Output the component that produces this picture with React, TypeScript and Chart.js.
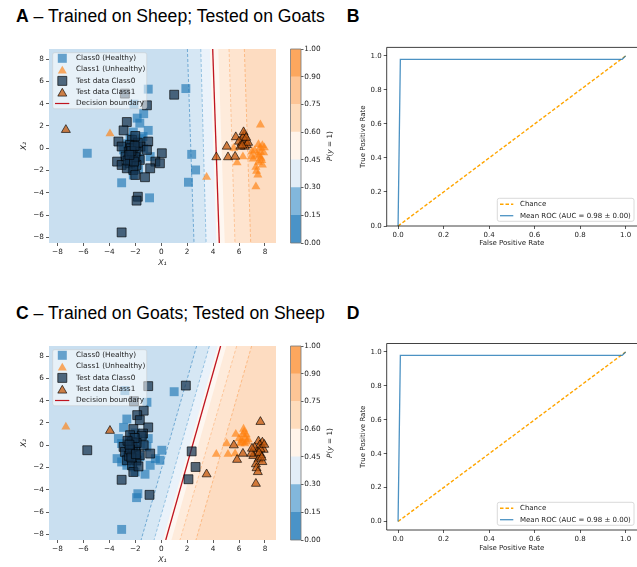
import React, { useEffect, useRef } from 'react';
import { Chart, registerables } from 'chart.js';

Chart.register(...registerables);

const FONT = "'DejaVu Sans', sans-serif";
const TITLE_FONT = "'Liberation Sans', Arial, sans-serif";
const TEXT = '#222';

// ---------------- scatter panels (A, C) ----------------
const SCATTER_X_TICKS = [-8, -6, -4, -2, 0, 2, 4, 6, 8];
const SCATTER_Y_TICKS = [-8, -6, -4, -2, 0, 2, 4, 6, 8];
const SCATTER_X_LIMITS = [-8.65, 8.85];
const SCATTER_Y_LIMITS = [-8.5, 8.9];

type Pt = [number, number];

const SHEEP_CLASS0: Pt[] = [
  [-5.7, -0.45], [-1.0, 5.3], [1.9, 5.35], [2.35, -0.55], [2.65, -1.95], [2.1, -3.05],
  [-3.05, -3.1], [-0.9, -4.45], [-2.1, 3.95], [-1.35, 3.1], [-1.85, 2.7], [-1.65, 2.25],
  [-1.0, 1.6], [-2.15, 1.45], [-1.4, 1.05], [-2.4, 0.9], [-1.5, 0.85], [-2.9, -0.15],
  [-2.25, 0.3], [-1.35, 0.0], [-2.8, -0.6], [-2.0, -0.45], [-2.65, -1.35], [-1.9, -1.35],
  [-2.25, -1.8], [-1.65, -0.9], [-2.15, -2.4], [-0.85, -0.75], [-2.2, -0.15], [-2.5, -0.95],
  [-1.9, 0.2], [-2.4, -0.4], [-1.75, -1.9], [-2.05, 0.65], [-2.6, 0.4], [-2.3, -1.1],
  [-1.95, -0.8], [-2.45, 0.05],
];
const GOATS_CLASS0: Pt[] = [
  [1.0, 4.8], [-2.8, 4.9], [-1.1, 3.85], [-2.65, 2.35], [-2.9, 1.6], [-2.25, 0.75],
  [-3.3, 0.6], [-3.05, 0.15], [-2.4, 0.3], [-1.0, 0.6], [-1.6, 0.15], [-2.5, -0.3],
  [-1.9, -0.3], [-1.1, -0.15], [-2.75, -0.75], [-2.25, -0.9], [-1.65, -1.05], [-3.4, -1.2],
  [-3.05, -1.5], [-2.4, -1.35], [-1.9, -1.5], [-2.65, -1.8], [-2.15, -1.95], [0.05, -0.45],
  [-0.45, -1.2], [-0.1, -1.35], [-0.85, -1.8], [-2.0, -2.4], [-1.25, -2.6], [-1.8, -4.35],
  [-1.9, -4.7], [-3.05, -7.55], [-2.2, -0.5], [-2.35, 0.0], [-2.0, -0.8], [-2.6, -1.1],
  [-1.8, 0.5], [-2.1, -1.2], [-2.0, 1.1], [-2.3, -0.25], [-2.05, 0.2], [-2.45, -0.6],
];
const SHEEP_CLASS1: Pt[] = [
  [-3.95, 1.3], [3.5, -2.6], [7.65, 2.1], [7.3, -3.45], [5.85, -1.3], [6.3, -0.75],
  [5.6, 0.0], [7.5, 0.35], [7.8, 0.25], [7.6, 0.0], [7.2, -0.2], [7.9, -0.4],
  [7.4, -0.6], [7.7, -0.9], [7.1, -0.95], [7.5, -1.25], [7.8, -1.5], [7.3, -1.7],
  [7.35, -2.05], [7.45, -2.4], [6.95, -0.75], [7.0, -0.3], [7.65, -0.35], [7.95, 0.05],
  [7.55, -0.7], [7.75, -1.1],
];
const GOATS_CLASS1: Pt[] = [
  [-7.35, 1.65], [4.25, -0.8], [5.05, 0.15], [5.15, -0.8], [5.75, 1.0], [6.4, 1.2],
  [6.2, 0.45], [6.5, 0.65], [6.3, 0.95], [6.6, 0.3], [6.0, 0.6], [6.45, 0.15],
  [6.7, 0.5], [6.1, 0.15], [6.35, 1.45], [6.55, 0.95], [6.25, 0.25], [5.7, -0.75],
];

// probability levels of the filled contours and colour bar
const COLORBAR_LABELS = ['0.00', '0.15', '0.30', '0.45', '0.60', '0.75', '0.90', '1.00'];
const COLORBAR_COLORS = ['#4a93c7', '#82b7dc', '#e2edf7', '#fff4ea', '#fedcbc', '#fdc596', '#fca75e'];
const REGION_COLORS = ['#c9dff0', '#d6e7f4', '#eaf2fa', '#fef7f1', '#feebdb', '#fee4cf', '#fddcc1'];
const CONTOUR_LINE_COLORS = ['rgba(74,147,199,0.8)', 'rgba(130,183,220,0.9)', '', '', 'rgba(252,190,140,0.9)', 'rgba(251,170,105,0.8)'];

// x position of each contour line (levels 0.15 .. 0.90) at the top and bottom edge of the plot
const A_LEVEL_TOP = [2.02, 3.05, 3.75, 4.4, 5.23, 6.41];
const A_LEVEL_BOTTOM = [2.53, 3.46, 4.26, 4.9, 5.69, 6.9];
const A_BOUNDARY = [3.97, 4.48];
const C_LEVEL_TOP = [2.73, 3.71, 4.36, 5.02, 5.82, 6.97];
const C_LEVEL_BOTTOM = [-1.55, -0.55, 0.13, 0.79, 1.45, 2.68];
const C_BOUNDARY = [4.58, 0.35];

const SCATTER_LEGEND = ['Class0 (Healthy)', 'Class1 (Unhealthy)', 'Test data Class0', 'Test data Class1', 'Decision boundary'];

// ---------------- ROC panels (B, D) ----------------
const ROC_FPR = [0, 0.01, 0.985, 1.0];
const ROC_TPR = [0, 0.98, 0.98, 1.0];
const CHANCE_X = [0, 1];
const CHANCE_Y = [0, 1];
const ROC_TICKS = [0, 0.2, 0.4, 0.6, 0.8, 1.0];
const ROC_X_LIMITS = [-0.05, 1.05];
const ROC_B_Y_LIMITS = [0.0, 1.05];
const ROC_D_Y_LIMITS = [-0.05, 1.05];
const ROC_LEGEND = ['Chance', 'Mean ROC (AUC = 0.98 \u00b1 0.00)'];

// styles
const TRAIN0 = 'rgba(31,119,180,0.65)';
const TRAIN1 = 'rgba(255,127,14,0.65)';
const TEST0 = 'rgba(20,50,78,0.72)';
const TEST1 = 'rgba(195,88,12,0.75)';
const EDGE = 'rgba(0,0,0,0.8)';
const RED = '#c0141f';
const ROC_BLUE = 'rgba(31,119,180,0.8)';
const CHANCE_ORANGE = '#ffa500';

const fmtInt = (v: number) => (v < 0 ? '\u2212' + Math.abs(v) : String(v));

function roundRect(ctx: CanvasRenderingContext2D, x: number, y: number, w: number, h: number, r: number) {
  ctx.beginPath();
  ctx.moveTo(x + r, y);
  ctx.lineTo(x + w - r, y);
  ctx.arcTo(x + w, y, x + w, y + r, r);
  ctx.lineTo(x + w, y + h - r);
  ctx.arcTo(x + w, y + h, x + w - r, y + h, r);
  ctx.lineTo(x + r, y + h);
  ctx.arcTo(x, y + h, x, y + h - r, r);
  ctx.lineTo(x, y + r);
  ctx.arcTo(x, y, x + r, y, r);
  ctx.closePath();
}

function triangle(ctx: CanvasRenderingContext2D, cx: number, cy: number, w: number, h: number) {
  ctx.beginPath();
  ctx.moveTo(cx, cy - h / 2);
  ctx.lineTo(cx + w / 2, cy + h / 2);
  ctx.lineTo(cx - w / 2, cy + h / 2);
  ctx.closePath();
}

const scatterLegendPlugin = {
  id: 'scatterLegend',
  afterDatasetsDraw(chart: any) {
    const { ctx, chartArea: ca } = chart;
    const x0 = ca.left + 3.7;
    const y0 = ca.top + 3.7;
    ctx.save();
    roundRect(ctx, x0, y0, 94, 56, 2);
    ctx.fillStyle = 'rgba(255,255,255,0.55)';
    ctx.fill();
    ctx.strokeStyle = 'rgba(200,200,200,0.6)';
    ctx.lineWidth = 0.8;
    ctx.stroke();
    const mx = x0 + 9.6;
    SCATTER_LEGEND.forEach((label, i) => {
      const cy = y0 + 5.6 + i * 11.3;
      if (i === 0 || i === 2) {
        ctx.beginPath();
        ctx.rect(mx - 4.5, cy - 4.5, 9, 9);
        ctx.fillStyle = i === 0 ? TRAIN0 : TEST0;
        ctx.fill();
        if (i === 2) { ctx.strokeStyle = EDGE; ctx.lineWidth = 0.8; ctx.stroke(); }
      } else if (i === 1 || i === 3) {
        triangle(ctx, mx, cy, 9, 7.8);
        ctx.fillStyle = i === 1 ? TRAIN1 : TEST1;
        ctx.fill();
        if (i === 3) { ctx.strokeStyle = EDGE; ctx.lineWidth = 0.8; ctx.stroke(); }
      } else {
        ctx.beginPath();
        ctx.moveTo(x0 + 2.3, cy);
        ctx.lineTo(x0 + 16.6, cy);
        ctx.strokeStyle = RED;
        ctx.lineWidth = 1.2;
        ctx.stroke();
      }
      ctx.fillStyle = TEXT;
      ctx.font = `7.3px ${FONT}`;
      ctx.textBaseline = 'middle';
      ctx.textAlign = 'left';
      ctx.fillText(label, x0 + 23.3, cy);
    });
    ctx.restore();
  },
};

const rocLegendPlugin = {
  id: 'rocLegend',
  afterDatasetsDraw(chart: any) {
    const { ctx, chartArea: ca } = chart;
    const w = 136.7;
    const h = 23;
    const x0 = ca.right - 3 - w;
    const y0 = ca.bottom - 4.7 - h;
    ctx.save();
    roundRect(ctx, x0, y0, w, h, 2);
    ctx.fillStyle = 'rgba(255,255,255,0.8)';
    ctx.fill();
    ctx.strokeStyle = '#d0d0d0';
    ctx.lineWidth = 0.8;
    ctx.stroke();
    ROC_LEGEND.forEach((label, i) => {
      const cy = y0 + 6 + i * 11.4;
      ctx.beginPath();
      ctx.moveTo(x0 + 2.7, cy);
      ctx.lineTo(x0 + 16, cy);
      if (i === 0) {
        ctx.setLineDash([3.5, 2]);
        ctx.strokeStyle = CHANCE_ORANGE;
        ctx.lineWidth = 1.4;
      } else {
        ctx.setLineDash([]);
        ctx.strokeStyle = ROC_BLUE;
        ctx.lineWidth = 1.3;
      }
      ctx.stroke();
      ctx.setLineDash([]);
      ctx.fillStyle = TEXT;
      ctx.font = `7px ${FONT}`;
      ctx.textBaseline = 'middle';
      ctx.textAlign = 'left';
      ctx.fillText(label, x0 + 22.7, cy);
    });
    ctx.restore();
  },
};

const framePlugin = {
  id: 'frame',
  afterDatasetsDraw(chart: any, _args: any, opts: any) {
    const sides: string[] = opts.sides || [];
    if (!sides.length) return;
    const { ctx, chartArea: ca } = chart;
    ctx.save();
    ctx.strokeStyle = opts.color || '#000';
    ctx.lineWidth = opts.width || 0.8;
    ctx.beginPath();
    if (sides.includes('left')) { ctx.moveTo(ca.left, ca.top); ctx.lineTo(ca.left, ca.bottom); }
    if (sides.includes('right')) { ctx.moveTo(ca.right, ca.top); ctx.lineTo(ca.right, ca.bottom); }
    if (sides.includes('top')) { ctx.moveTo(ca.left, ca.top); ctx.lineTo(ca.right, ca.top); }
    if (sides.includes('bottom')) { ctx.moveTo(ca.left, ca.bottom); ctx.lineTo(ca.right, ca.bottom); }
    ctx.stroke();
    ctx.restore();
  },
};

const tickFont = { family: FONT, size: 7.3 };
const tickGrid = { display: true, drawOnChartArea: false, drawTicks: true, tickLength: 3, color: '#333', lineWidth: 0.8 };

function scatterConfig(train: [Pt[], Pt[]], test: [Pt[], Pt[]], levelTop: number[], levelBottom: number[], boundary: number[]) {
  const [xmin, xmax] = SCATTER_X_LIMITS;
  const [ymin, ymax] = SCATTER_Y_LIMITS;
  const datasets: any[] = [];
  REGION_COLORS.forEach((color, i) => {
    const lt = i === 0 ? xmin : levelTop[i - 1];
    const lb = i === 0 ? xmin : levelBottom[i - 1];
    datasets.push({
      data: [{ x: lt, y: ymax }, { x: xmax, y: ymax }, { x: xmax, y: ymin }, { x: lb, y: ymin }],
      showLine: true, fill: 'shape', backgroundColor: color, borderColor: 'rgba(0,0,0,0)', borderWidth: 0,
      pointRadius: 0, order: 100 - i,
    });
  });
  CONTOUR_LINE_COLORS.forEach((color, i) => {
    if (!color) return;
    datasets.push({
      data: [{ x: levelTop[i], y: ymax }, { x: levelBottom[i], y: ymin }],
      showLine: true, fill: false, borderColor: color, borderWidth: 0.9, borderDash: [3, 2],
      pointRadius: 0, order: 60,
    });
  });
  datasets.push({
    data: [{ x: boundary[0], y: ymax }, { x: boundary[1], y: ymin }],
    showLine: true, fill: false, borderColor: RED, borderWidth: 1.3, pointRadius: 0, order: 50,
  });
  const pts = (arr: Pt[]) => arr.map(([x, y]) => ({ x, y }));
  datasets.push({ data: pts(train[0]), pointStyle: 'rect', pointRadius: 6.3, backgroundColor: TRAIN0, borderWidth: 0, borderColor: 'rgba(0,0,0,0)', order: 30 });
  datasets.push({ data: pts(train[1]), pointStyle: 'triangle', pointRadius: 5.2, backgroundColor: TRAIN1, borderWidth: 0, borderColor: 'rgba(0,0,0,0)', order: 29 });
  datasets.push({ data: pts(test[0]), pointStyle: 'rect', pointRadius: 6.3, backgroundColor: TEST0, borderWidth: 0.8, borderColor: EDGE, order: 20 });
  datasets.push({ data: pts(test[1]), pointStyle: 'triangle', pointRadius: 5.2, backgroundColor: TEST1, borderWidth: 0.8, borderColor: EDGE, order: 19 });

  return {
    type: 'scatter',
    data: { datasets },
    options: {
      responsive: false, animation: false, events: [],
      layout: { padding: { left: 0, top: 19, right: 10, bottom: 0 }, autoPadding: false },
      plugins: { legend: { display: false }, tooltip: { enabled: false } },
      elements: { point: { hoverRadius: 0 } },
      scales: {
        x: {
          type: 'linear', min: xmin, max: xmax,
          afterBuildTicks: (s: any) => { s.ticks = SCATTER_X_TICKS.map((v) => ({ value: v })); },
          afterFit: (s: any) => { s.height = 32; },
          ticks: { font: tickFont, color: TEXT, padding: 2, maxRotation: 0, autoSkip: false, callback: (v: any) => fmtInt(v) },
          grid: tickGrid, border: { display: false },
          title: { display: true, text: 'X\u2081', color: TEXT, font: { family: FONT, size: 7.8, style: 'italic' }, padding: { top: 0, bottom: 7.2 } },
        },
        y: {
          type: 'linear', min: ymin, max: ymax,
          afterBuildTicks: (s: any) => { s.ticks = SCATTER_Y_TICKS.map((v) => ({ value: v })); },
          afterFit: (s: any) => { s.width = 49; },
          ticks: { font: tickFont, color: TEXT, padding: 2, autoSkip: false, callback: (v: any) => fmtInt(v) },
          grid: tickGrid, border: { display: false },
          title: { display: true, text: 'X\u2082', color: TEXT, font: { family: FONT, size: 7.8, style: 'italic' }, padding: { top: 19.3, bottom: 0 } },
        },
      },
    },
    plugins: [scatterLegendPlugin],
  };
}

function colorbarConfig() {
  return {
    type: 'bar',
    data: {
      labels: [''],
      datasets: COLORBAR_COLORS.map((c) => ({ data: [1], backgroundColor: c, borderWidth: 0, barPercentage: 1, categoryPercentage: 1 })),
    },
    options: {
      responsive: false, animation: false, events: [],
      layout: { padding: { left: 4.5, top: 19, right: 0, bottom: 32 }, autoPadding: false },
      plugins: { legend: { display: false }, tooltip: { enabled: false }, frame: { sides: ['left', 'right', 'top', 'bottom'], color: '#777', width: 0.8 } },
      scales: {
        x: { display: false, stacked: true },
        y: {
          position: 'right', stacked: true, min: 0, max: COLORBAR_COLORS.length,
          afterBuildTicks: (s: any) => { s.ticks = COLORBAR_LABELS.map((_, i) => ({ value: i })); },
          afterFit: (s: any) => { s.width = 29; },
          ticks: { font: tickFont, color: TEXT, padding: 0.8, autoSkip: false, callback: (v: any) => COLORBAR_LABELS[Math.round(v)] },
          grid: { display: true, drawOnChartArea: false, drawTicks: true, tickLength: 2.5, color: '#333', lineWidth: 0.8 },
          border: { display: false },
        },
      },
    },
    plugins: [framePlugin],
  };
}

function rocConfig(yLimits: number[], padTop: number, xAxisHeight: number, titleBottom: number) {
  return {
    type: 'scatter',
    data: {
      datasets: [
        {
          data: ROC_FPR.map((x, i) => ({ x, y: ROC_TPR[i] })),
          showLine: true, fill: false, borderColor: ROC_BLUE, borderWidth: 1.3, pointRadius: 0, order: 1,
        },
        {
          data: CHANCE_X.map((x, i) => ({ x, y: CHANCE_Y[i] })),
          showLine: true, fill: false, borderColor: CHANCE_ORANGE, borderWidth: 1.4, borderDash: [3.5, 2], pointRadius: 0, order: 2,
        },
      ],
    },
    options: {
      responsive: false, animation: false, events: [],
      layout: { padding: { left: 0, top: padTop, right: 0, bottom: 0 }, autoPadding: false },
      plugins: { legend: { display: false }, tooltip: { enabled: false }, frame: { sides: ['left', 'top', 'bottom'], color: '#111', width: 0.8 } },
      scales: {
        x: {
          type: 'linear', min: ROC_X_LIMITS[0], max: ROC_X_LIMITS[1],
          afterBuildTicks: (s: any) => { s.ticks = ROC_TICKS.map((v) => ({ value: v })); },
          afterFit: (s: any) => { s.height = xAxisHeight; },
          ticks: { font: { family: FONT, size: 7 }, color: TEXT, padding: 2, maxRotation: 0, autoSkip: false, callback: (v: any) => Number(v).toFixed(1) },
          grid: tickGrid, border: { display: false },
          title: { display: true, text: 'False Positive Rate', color: TEXT, font: { family: FONT, size: 7 }, padding: { top: 0, bottom: titleBottom } },
        },
        y: {
          type: 'linear', min: yLimits[0], max: yLimits[1],
          afterBuildTicks: (s: any) => { s.ticks = ROC_TICKS.map((v) => ({ value: v })); },
          afterFit: (s: any) => { s.width = 56.7; },
          ticks: { font: { family: FONT, size: 7 }, color: TEXT, padding: 2, autoSkip: false, callback: (v: any) => Number(v).toFixed(1) },
          grid: tickGrid, border: { display: false },
          title: { display: true, text: 'True Positive Rate', color: TEXT, font: { family: FONT, size: 7 }, padding: { top: 29.1, bottom: 0 } },
        },
      },
    },
    plugins: [framePlugin, rocLegendPlugin],
  };
}

function ChartBox({ left, top, width, height, make }: { left: number; top: number; width: number; height: number; make: () => any }) {
  const ref = useRef<HTMLCanvasElement | null>(null);
  useEffect(() => {
    if (!ref.current) return;
    const chart = new Chart(ref.current, make());
    return () => chart.destroy();
  }, []);
  return (
    <canvas ref={ref} width={width} height={height} style={{ position: 'absolute', left, top, width, height, display: 'block' }} />
  );
}

function PanelTitle({ left, top, letter, text }: { left: number; top: number; letter: string; text?: string }) {
  return (
    <div style={{ position: 'absolute', left, top, fontFamily: TITLE_FONT, fontSize: 17.6, lineHeight: '17.6px', color: '#000', whiteSpace: 'nowrap' }}>
      <b>{letter}</b>{text ? ' \u2013 ' + text : ''}
    </div>
  );
}

function CbarLabel({ cx, cy }: { cx: number; cy: number }) {
  return (
    <div style={{ position: 'absolute', left: cx, top: cy, transform: 'translate(-50%,-50%) rotate(-90deg)', fontFamily: FONT, fontSize: 7.3, lineHeight: '9px', color: TEXT, whiteSpace: 'nowrap' }}>
      <i>P</i>(<i>y</i> = 1)
    </div>
  );
}

export default function App() {
  const dy = 297;
  return (
    <div style={{ position: 'absolute', left: 0, top: 0, width: 637, height: 567, background: '#fff', overflow: 'hidden' }}>
      <PanelTitle left={16} top={8.4} letter="A" text="Trained on Sheep; Tested on Goats" />
      <PanelTitle left={346.7} top={8.4} letter="B" />
      <PanelTitle left={16} top={8.4 + dy} letter="C" text="Trained on Goats; Tested on Sheep" />
      <PanelTitle left={346.7} top={8.4 + dy} letter="D" />

      <ChartBox left={0} top={30} width={286} height={245}
        make={() => scatterConfig([SHEEP_CLASS0, SHEEP_CLASS1], [GOATS_CLASS0, GOATS_CLASS1], A_LEVEL_TOP, A_LEVEL_BOTTOM, A_BOUNDARY)} />
      <ChartBox left={286} top={30} width={44} height={245} make={colorbarConfig} />
      <CbarLabel cx={328.5} cy={146} />
      <ChartBox left={330} top={30} width={307} height={245} make={() => rocConfig(ROC_B_Y_LIMITS, 17.4, 49, 28.1)} />

      <ChartBox left={0} top={30 + dy} width={286} height={245}
        make={() => scatterConfig([GOATS_CLASS0, GOATS_CLASS1], [SHEEP_CLASS0, SHEEP_CLASS1], C_LEVEL_TOP, C_LEVEL_BOTTOM, C_BOUNDARY)} />
      <ChartBox left={286} top={30 + dy} width={44} height={245} make={colorbarConfig} />
      <CbarLabel cx={328.5} cy={146 + dy} />
      <ChartBox left={330} top={30 + dy - 1} width={307} height={245} make={() => rocConfig(ROC_D_Y_LIMITS, 17.5, 41, 19.1)} />
    </div>
  );
}
